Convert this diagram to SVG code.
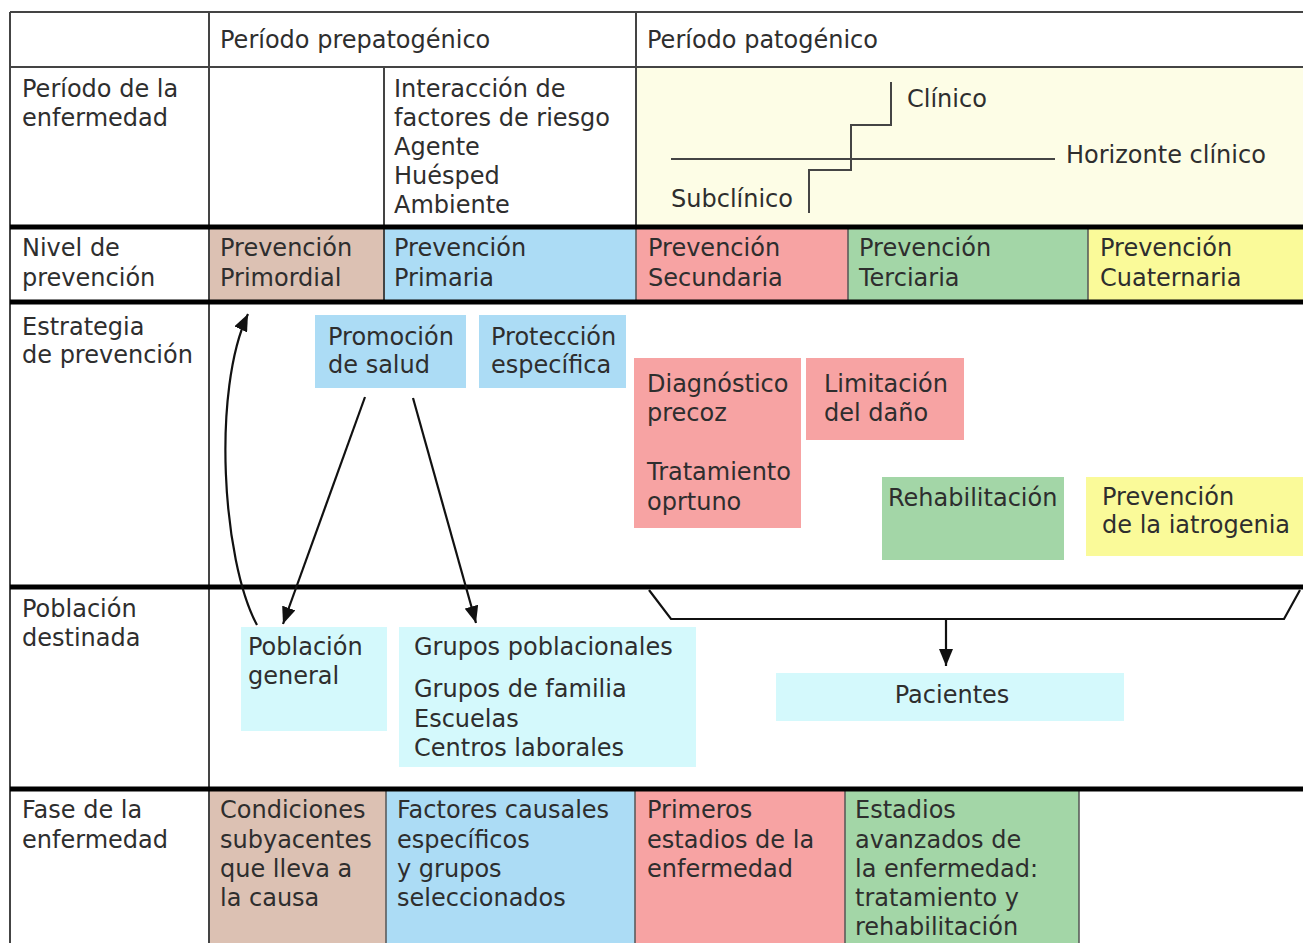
<svg xmlns="http://www.w3.org/2000/svg" width="1303" height="943" viewBox="0 0 1303 943">
<defs>
<style>
text{font-family:"DejaVu Sans",Verdana,"Liberation Sans",sans-serif;font-size:24px;fill:#2e2e2e}
.thin{stroke:#444;stroke-width:2;fill:none}
.cell{stroke:#555;stroke-width:1.5;fill:none}
.thick{stroke:#000;stroke-width:5}
.brown{fill:#dcc1b3}
.blue{fill:#acdcf5}
.red{fill:#f7a3a3}
.green{fill:#a3d6a7}
.yellow{fill:#fafa99}
.cyan{fill:#d4f9fc}
.conn{stroke:#111;stroke-width:2.2;fill:none}
</style>
<marker id="ah" markerUnits="userSpaceOnUse" markerWidth="18" markerHeight="14" refX="17" refY="7" orient="auto">
<path d="M0,0 L17,7 L0,14 z" fill="#111"/>
</marker>
</defs>
<rect width="1303" height="943" fill="#fff"/>

<g id="background">
<rect x="637" y="68" width="666" height="157" fill="#fdfde6"/>
</g>

<g id="row-nivel">
<rect class="brown" x="209" y="229" width="175" height="71"/>
<rect class="blue" x="384" y="229" width="252" height="71"/>
<rect class="red" x="636" y="229" width="212" height="71"/>
<rect class="green" x="848" y="229" width="240" height="71"/>
<rect class="yellow" x="1088" y="229" width="215" height="71"/>
</g>

<g id="row-fase">
<rect class="brown" x="209" y="791" width="177" height="152"/>
<rect class="blue" x="386" y="791" width="249" height="152"/>
<rect class="red" x="635" y="791" width="210" height="152"/>
<rect class="green" x="845" y="791" width="234" height="152"/>
</g>

<g id="grid">
<line class="thin" x1="10" y1="12" x2="1303" y2="12"/>
<line class="thin" x1="10" y1="67" x2="1303" y2="67"/>
<line class="thin" x1="10" y1="12" x2="10" y2="943"/>
<line class="thin" x1="209" y1="12" x2="209" y2="943"/>
<line class="thin" x1="636" y1="12" x2="636" y2="227"/>
<line class="thin" x1="384" y1="67" x2="384" y2="302"/>
<line class="cell" x1="636" y1="227" x2="636" y2="302"/>
<line class="cell" x1="848" y1="227" x2="848" y2="302"/>
<line class="cell" x1="1088" y1="227" x2="1088" y2="302"/>
<line class="cell" x1="386" y1="789" x2="386" y2="943"/>
<line class="cell" x1="635" y1="789" x2="635" y2="943"/>
<line class="cell" x1="845" y1="789" x2="845" y2="943"/>
<line class="cell" x1="1079" y1="789" x2="1079" y2="943"/>
<line class="thick" x1="10" y1="227" x2="1303" y2="227"/>
<line class="thick" x1="10" y1="302" x2="1303" y2="302"/>
<line class="thick" x1="10" y1="587" x2="1303" y2="587"/>
<line class="thick" x1="10" y1="789" x2="1303" y2="789"/>
</g>

<g id="headers">
<text x="220" y="48">Período prepatogénico</text>
<text x="647" y="48">Período patogénico</text>
<text x="22" y="97">Período de la</text>
<text x="22" y="126">enfermedad</text>
<text x="22" y="256">Nivel de</text>
<text x="22" y="286">prevención</text>
<text x="22" y="335">Estrategia</text>
<text x="22" y="363">de prevención</text>
<text x="22" y="617">Población</text>
<text x="22" y="646">destinada</text>
<text x="22" y="818">Fase de la</text>
<text x="22" y="848">enfermedad</text>
</g>

<g id="factores">
<text x="394" y="97">Interacción de</text>
<text x="394" y="126">factores de riesgo</text>
<text x="394" y="155">Agente</text>
<text x="394" y="184">Huésped</text>
<text x="394" y="213">Ambiente</text>
</g>

<g id="horizonte">
<polyline class="thin" points="891,82 891,125 851,125 851,170 809,170 809,213"/>
<line class="thin" x1="671" y1="159" x2="1055" y2="159"/>
<text x="907" y="107">Clínico</text>
<text x="1066" y="163">Horizonte clínico</text>
<text x="671" y="207">Subclínico</text>
</g>

<g id="nivel-texts">
<text x="220" y="256">Prevención</text>
<text x="220" y="286">Primordial</text>
<text x="394" y="256">Prevención</text>
<text x="394" y="286">Primaria</text>
<text x="648" y="256">Prevención</text>
<text x="648" y="286">Secundaria</text>
<text x="859" y="256">Prevención</text>
<text x="859" y="286">Terciaria</text>
<text x="1100" y="256">Prevención</text>
<text x="1100" y="286">Cuaternaria</text>
</g>

<g id="promocion">
<rect class="blue" x="315" y="315" width="151" height="73"/>
<text x="328" y="345">Promoción</text>
<text x="328" y="373">de salud</text>
</g>
<g id="proteccion">
<rect class="blue" x="479" y="315" width="147" height="73"/>
<text x="491" y="345">Protección</text>
<text x="491" y="373">específica</text>
</g>
<g id="diagnostico">
<rect class="red" x="634" y="358" width="167" height="170"/>
<text x="647" y="392">Diagnóstico</text>
<text x="647" y="421">precoz</text>
<text x="647" y="480">Tratamiento</text>
<text x="647" y="510">oprtuno</text>
</g>
<g id="limitacion">
<rect class="red" x="806" y="358" width="158" height="82"/>
<text x="824" y="392">Limitación</text>
<text x="824" y="421">del daño</text>
</g>
<g id="rehabilitacion">
<rect class="green" x="882" y="477" width="182" height="83"/>
<text x="888" y="506">Rehabilitación</text>
</g>
<g id="iatrogenia">
<rect class="yellow" x="1086" y="477" width="217" height="79"/>
<text x="1102" y="505">Prevención</text>
<text x="1102" y="533">de la iatrogenia</text>
</g>

<g id="poblacion-general">
<rect class="cyan" x="241" y="627" width="146" height="104"/>
<text x="248" y="655">Población</text>
<text x="248" y="684">general</text>
</g>
<g id="grupos">
<rect class="cyan" x="399" y="627" width="297" height="140"/>
<text x="414" y="655">Grupos poblacionales</text>
<text x="414" y="697">Grupos de familia</text>
<text x="414" y="727">Escuelas</text>
<text x="414" y="756">Centros laborales</text>
</g>
<g id="pacientes">
<rect class="cyan" x="776" y="673" width="348" height="48"/>
<text x="952" y="703" text-anchor="middle">Pacientes</text>
</g>

<g id="fase-texts">
<text x="220" y="818">Condiciones</text>
<text x="220" y="848">subyacentes</text>
<text x="220" y="877">que lleva a</text>
<text x="220" y="906">la causa</text>
<text x="397" y="818">Factores causales</text>
<text x="397" y="848">específicos</text>
<text x="397" y="877">y grupos</text>
<text x="397" y="906">seleccionados</text>
<text x="647" y="818">Primeros</text>
<text x="647" y="848">estadios de la</text>
<text x="647" y="877">enfermedad</text>
<text x="855" y="818">Estadios</text>
<text x="855" y="848">avanzados de</text>
<text x="855" y="877">la enfermedad:</text>
<text x="855" y="906">tratamiento y</text>
<text x="855" y="935">rehabilitación</text>
</g>

<g id="connectors">
<path class="conn" d="M257,625 C222,560 212,390 248,314" marker-end="url(#ah)"/>
<line class="conn" x1="365" y1="397" x2="283" y2="624" marker-end="url(#ah)"/>
<line class="conn" x1="413" y1="398" x2="476" y2="623" marker-end="url(#ah)"/>
<polyline class="conn" points="649,590 671,619 1284,619 1300,590"/>
<line class="conn" x1="946" y1="619" x2="946" y2="666" marker-end="url(#ah)"/>
</g>
</svg>
